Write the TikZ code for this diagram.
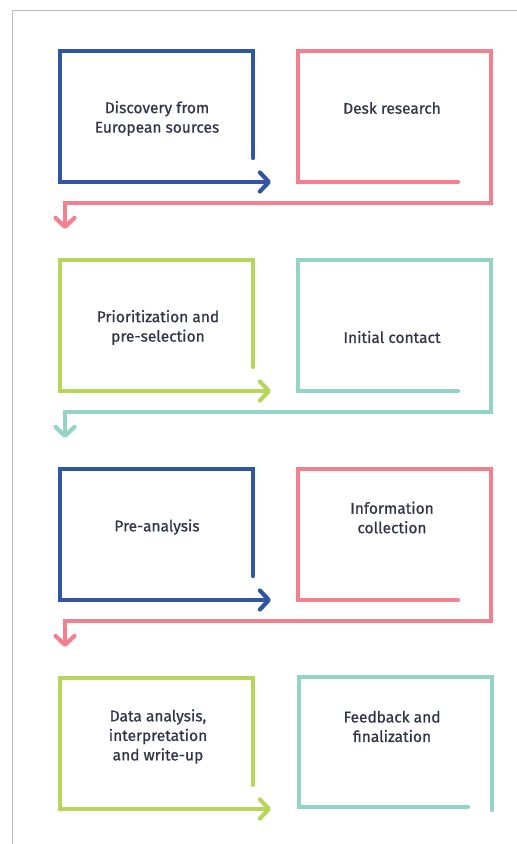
\documentclass[tikz,border=0pt]{standalone}
\usepackage{fontspec}
\setmainfont{Fira Sans}[FakeBold=0.8]
\usetikzlibrary{arrows.meta}

\definecolor{euBlue}{HTML}{2F55A4}
\definecolor{euPink}{HTML}{F4808D}
\definecolor{euGreen}{HTML}{B6D65B}
\definecolor{euTeal}{HTML}{93D4C6}
\definecolor{euText}{HTML}{30354A}
\definecolor{euFrame}{HTML}{BDBDBD}

\begin{document}
\begin{tikzpicture}[x=1pt, y=-1pt,
    track/.style={line width=4.2pt, line cap=round, line join=miter},
    tip/.style={-{Straight Barb[length=9pt, width=19pt, line cap=round, line join=round]}},
    label/.style={align=center, text=euText, font=\fontsize{15.5}{19.5}\selectfont, inner sep=0pt}]
    \useasboundingbox (0,0) rectangle (517,844);

    % page frame
    \draw[euFrame, line width=1pt] (517,10) -- (12,10) -- (12,844);

    % rows 1 to 3: left box and right box with return line
    \foreach \dy/\lc/\rc in {0/euBlue/euPink, 209/euGreen/euTeal, 418/euBlue/euPink} {
        \draw[track, \lc, tip] (253,158+\dy) -- (253,51+\dy) -- (60,51+\dy)
            -- (60,182+\dy) -- (271,182+\dy);
        \draw[track, \rc, tip] (458,182+\dy) -- (298,182+\dy) -- (298,51+\dy)
            -- (491,51+\dy) -- (491,203+\dy) -- (65,203+\dy) -- (65,229+\dy);
    }

    % last row
    \draw[track, euGreen, tip] (253,785) -- (253,678) -- (60,678) -- (60,809) -- (271,809);
    \draw[track, euTeal] (468,807) -- (299,807) -- (299,677) -- (492,677) -- (492,810);

    \node[label] (discovery) at (157,118.5) {Discovery from\\European sources};
    \node[label] (desk)      at (392,108)   {Desk research};
    \node[label] (prio)      at (158,327.5) {Prioritization and\\pre-selection};
    \node[label] (contact)   at (392,337)   {Initial contact};
    \node[label] (pre)       at (157,527)   {Pre-analysis};
    \node[label] (info)      at (392,517.5) {Information\\collection};
    \node[label] (data)      at (158,736.5) {Data analysis,\\interpretation\\and write-up};
    \node[label] (feedback)  at (392,726.5) {Feedback and\\finalization};
\end{tikzpicture}
\end{document}
